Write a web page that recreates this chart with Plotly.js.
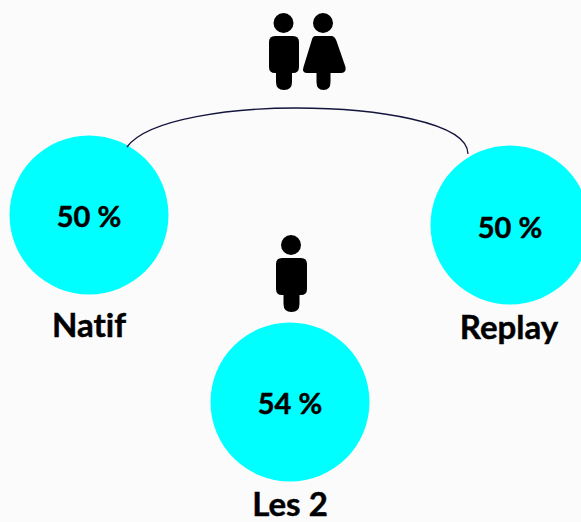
<!DOCTYPE html>
<html><head><meta charset="utf-8">
<script src="https://cdn.plot.ly/plotly-3.0.1.min.js"></script>
<style>html,body{margin:0;padding:0;background:#fbfbfc;overflow:hidden}#c{width:581px;height:522px}
.textpoint text{font-variant-ligatures:none;font-feature-settings:"liga" 0,"clig" 0;letter-spacing:.01px;stroke:#000;stroke-width:.45px}</style>
</head><body><div id="c"></div>
<script>
const categories = ['Natif', 'Replay', 'Les 2'];
const shares = [50, 50, 54];
const circleX = [89, 510, 290];
const circleY = [215, 225, 402];
const labelX = [89, 509, 290];
const labelY = [329, 331, 508];
const pctY = [220, 231, 407];
const FONT = 'Lato, Carlito, sans-serif';
const BLACK = '#000000';

function person(cx, top, halfBody, halfLeg) {
  const h = top, b = h + 13, e = h + 50, f = h + 67;
  const L = cx - halfBody, R = cx + halfBody, l = cx - halfLeg, r = cx + halfLeg;
  return `M${L + 6} ${b} L${R - 6} ${b} Q${R} ${b} ${R} ${b + 6} L${R} ${e - 6} Q${R} ${e} ${R - 6} ${e} L${r} ${e} L${r} ${f - 8} Q${r} ${f} ${cx} ${f} Q${l} ${f} ${l} ${f - 8} L${l} ${e} L${L + 6} ${e} Q${L} ${e} ${L} ${e - 6} L${L} ${b + 6} Q${L} ${b} ${L + 6} ${b} Z`;
}
function woman(cx, top) {
  const b = top + 13, e = top + 50, f = top + 67;
  return `M${cx - 8} ${b} L${cx + 8} ${b} Q${cx + 11} ${b} ${cx + 13} ${b + 5} L${cx + 22} ${e - 6} Q${cx + 23} ${e} ${cx + 17} ${e} L${cx + 7} ${e} L${cx + 7} ${f - 8} Q${cx + 7} ${f} ${cx} ${f} Q${cx - 7} ${f} ${cx - 7} ${f - 8} L${cx - 7} ${e} L${cx - 16} ${e} Q${cx - 22} ${e} ${cx - 20} ${e - 6} L${cx - 12} ${b + 5} Q${cx - 11} ${b} ${cx - 8} ${b} Z`;
}
function head(cx, cy, r) {
  return {type: 'circle', xref: 'x', yref: 'y', x0: cx - r, x1: cx + r, y0: cy - r, y1: cy + r, fillcolor: BLACK, line: {width: 0}};
}
function fill(path) { return {type: 'path', path, fillcolor: BLACK, line: {width: 0}}; }

const shapes = [
  {type: 'path', path: 'M127 147 C148 118 235 108 296 108 C375 108 468 122 468 154', line: {color: '#14143c', width: 1.3}},
  head(283.5, 23, 10), fill(person(284, 23, 15, 8)),
  head(323, 23, 10), fill(woman(323.5, 23)),
  head(291, 245, 10), fill(person(291.5, 245, 15.5, 8))
];

const traces = [
  {type: 'scatter', mode: 'markers', x: circleX, y: circleY, hoverinfo: 'skip',
   marker: {size: 159, color: '#00ffff', line: {width: 0}}, showlegend: false},
  {type: 'scatter', mode: 'text', x: circleX, y: pctY, text: shares.map(v => '<b>' + v + ' %</b>'),
   textposition: 'middle center', textfont: {family: FONT, size: 29, color: BLACK}, showlegend: false},
  {type: 'scatter', mode: 'text', x: labelX, y: labelY, text: categories.map(c => '<b>' + c + '</b>'),
   textposition: 'middle center', textfont: {family: FONT, size: 33, color: BLACK}, showlegend: false}
];

Plotly.newPlot('c', traces, {
  width: 581, height: 522, margin: {l: 0, r: 0, t: 0, b: 0},
  paper_bgcolor: '#fbfbfc', plot_bgcolor: '#fbfbfc',
  xaxis: {range: [0, 581], visible: false, fixedrange: true},
  yaxis: {range: [522, 0], visible: false, fixedrange: true},
  shapes, showlegend: false
}, {displayModeBar: false, staticPlot: true});
</script></body></html>
